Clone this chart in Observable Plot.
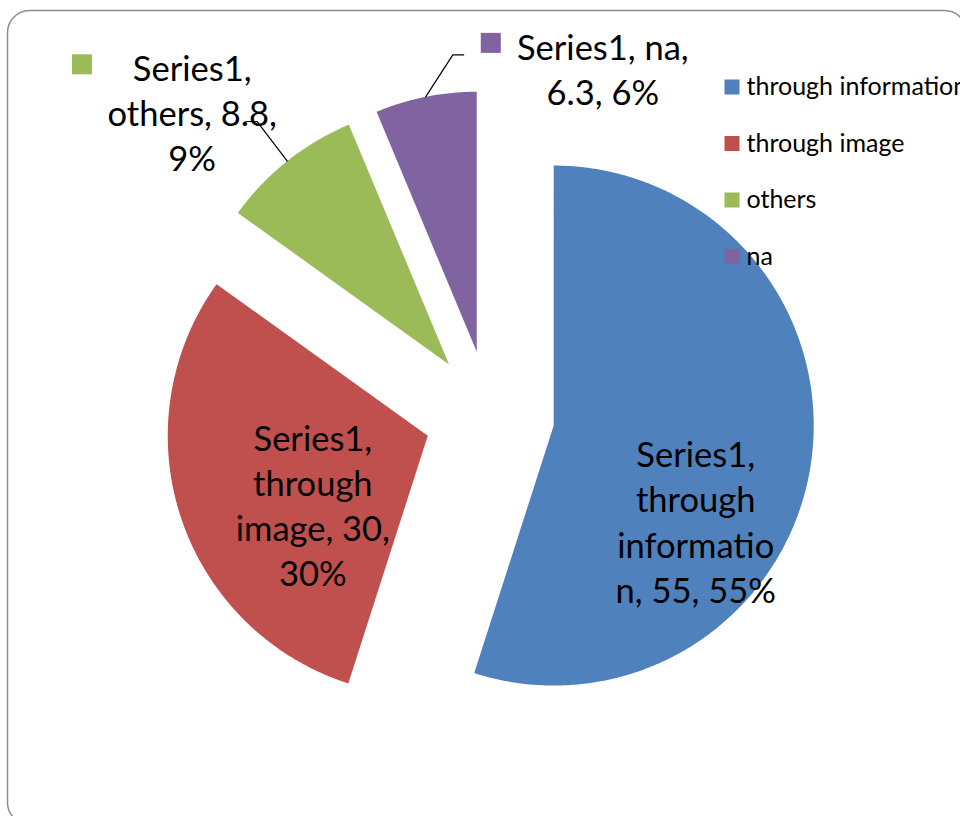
<!DOCTYPE html>
<html>
<head>
<meta charset="utf-8">
<script src="https://cdn.jsdelivr.net/npm/d3@7"></script>
<script src="https://cdn.jsdelivr.net/npm/@observablehq/plot@0.6"></script>
<style>
  html, body { margin: 0; padding: 0; background: #fff; }
  #chart svg { display: block; }
</style>
</head>
<body>
<div id="chart"></div>
<script>
// ---- data ----
const seriesName = "Series1";
const categories = ["through information", "through image", "others", "na"];
const values = [55, 30, 8.8, 6.3];
const colors = ["#4F81BD", "#C0504D", "#9BBB59", "#8064A2"];

// ---- layout ----
const W = 960, H = 816;
const R = 260, CX = 489, CY = 415;     // pie radius and centre (px)
const explode = 0.25;                   // in radius units
const u = (p, c) => (p - c) / R;        // px -> radius units
const wrapWidth = [10, 10, 12, 12];
const labelOffset = [[0.546, 0.365], [-0.442, 0.263], [-0.988, -0.973], [0.485, -1.092]];
const labelKey = {2: [-1.412, -1.155], 3: [0.054, -1.188]};
const leaderElbow = {2: [[-0.738, -0.935], [-0.781, -0.935]], 3: [[-0.092, -1.142], [-0.05, -1.142]]};

const total = d3.sum(values);
let cum = 0;
const slices = values.map((v, i) => {
  const a0 = cum / total * 2 * Math.PI;
  cum += v;
  const a1 = cum / total * 2 * Math.PI;
  const am = (a0 + a1) / 2;
  const ox = explode * Math.sin(am), oy = -explode * Math.cos(am);
  return {i, cat: categories[i], v, a0, a1, am, ox, oy};
});

const polyPts = [];
for (const s of slices) {
  polyPts.push({cat: s.cat, x: s.ox, y: s.oy});
  const n = Math.max(4, Math.ceil((s.a1 - s.a0) / (Math.PI / 360)));
  for (let k = 0; k <= n; k++) {
    const a = s.a0 + (s.a1 - s.a0) * k / n;
    polyPts.push({cat: s.cat, x: s.ox + Math.sin(a), y: s.oy - Math.cos(a)});
  }
}

function wrap(str, max) {
  const words = str.split(" ");
  const lines = [];
  let cur = "";
  for (let w of words) {
    const cand = cur ? cur + " " + w : w;
    if (cand.length <= max) { cur = cand; continue; }
    if (cur) { lines.push(cur); cur = ""; }
    while (w.length > max) { lines.push(w.slice(0, max)); w = w.slice(max); }
    cur = w;
  }
  if (cur) lines.push(cur);
  return lines.join("\n");
}

const labels = slices.map(s => {
  const pct = Math.round(s.v / total * 100) + "%";
  const txt = `${seriesName}, ${s.cat}, ${s.v}, ${pct}`;
  return {
    cat: s.cat,
    text: wrap(txt, wrapWidth[s.i]),
    x: s.ox + labelOffset[s.i][0],
    y: s.oy + labelOffset[s.i][1]
  };
});

const keys = slices.filter(s => labelKey[s.i]).map(s => ({
  cat: s.cat, x: s.ox + labelKey[s.i][0], y: s.oy + labelKey[s.i][1]
}));

const leaders = [];
for (const s of slices) {
  if (!leaderElbow[s.i]) continue;
  leaders.push({cat: s.cat, x: s.ox + Math.sin(s.am), y: s.oy - Math.cos(s.am)});
  for (const [ex, ey] of leaderElbow[s.i]) leaders.push({cat: s.cat, x: s.ox + ex, y: s.oy + ey});
}

const legendRows = categories.map((c, i) => ({
  cat: c,
  x: u(731.5, CX),
  tx: u(746, CX),
  y: u(86.5 + i * 56.5, CY)
}));

const font = "Lato, Carlito, Calibri, 'DejaVu Sans', sans-serif";

const chart = Plot.plot({
  width: W, height: H,
  marginTop: 0, marginRight: 0, marginBottom: 0, marginLeft: 0,
  style: {fontFamily: font, background: "#fff", overflow: "hidden"},
  x: {domain: [u(0, CX), u(W, CX)], range: [0, W], axis: null},
  y: {domain: [u(0, CY), u(H, CY)], range: [0, H], axis: null},
  color: {domain: categories, range: colors},
  marks: [
    Plot.frame({rx: 22, stroke: "#8c8c8c", strokeWidth: 1.5, insetLeft: 7, insetTop: 10, insetRight: -6, insetBottom: -8}),
    Plot.line(polyPts, {x: "x", y: "y", z: "cat", fill: "cat", stroke: null, curve: "linear-closed"}),
    Plot.line(leaders, {x: "x", y: "y", z: "cat", stroke: "#000", strokeWidth: 1.2}),
    Plot.dot(keys, {x: "x", y: "y", fill: "cat", symbol: "square", r: 11.3, stroke: null}),
    Plot.text(labels, {x: "x", y: "y", text: "text", fill: "#000", fontSize: 34.5, lineHeight: 1.31, textAnchor: "middle", lineAnchor: "middle"}),
    Plot.dot(legendRows, {x: "x", y: "y", fill: "cat", symbol: "square", r: 8.46, stroke: null}),
    Plot.text(legendRows, {x: "tx", y: "y", text: "cat", fill: "#000", fontSize: 25, textAnchor: "start", lineAnchor: "middle"})
  ]
});
document.getElementById("chart").appendChild(chart);
</script>
</body>
</html>
